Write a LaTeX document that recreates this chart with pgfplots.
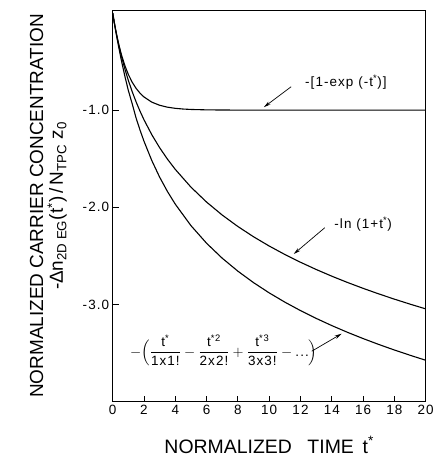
\documentclass[border=0pt]{standalone}
\usepackage{fontspec}
\setmainfont{Liberation Sans}
\newfontfamily\lsfont{Liberation Sans}[LetterSpace=8]
\usepackage{amsmath}
\usepackage{pgfplots}
\pgfplotsset{compat=1.18}
\usetikzlibrary{arrows.meta}
\begin{document}
\begin{tikzpicture}
\begin{axis}[
  width=314pt, height=393pt, scale only axis,
  xmin=0, xmax=20, ymin=-4, ymax=0.03,
  xtick={0,2,...,20},
  ytick={-1,-2,-3}, yticklabels={-1.0,-2.0,-3.0},
  xtick pos=bottom, ytick pos=left, tick align=inside,
  major tick length=6pt,
  axis line style={line width=0.9pt},
  tick style={line width=0.8pt, black},
  ticklabel style={font=\lsfont\fontsize{13.5}{16}\selectfont},
  /pgf/number format/assume math mode=true,
  xlabel={NORMALIZED\hspace{0.8em}TIME\hspace{0.45em}t\textsuperscript{*}},
  xlabel style={font=\fontsize{19.5}{20}\selectfont, yshift=-15pt},
  ylabel={NORMALIZED CARRIER CONCENTRATION\\-Δn\textsubscript{2D EG}(t\textsuperscript{*})\,/\,N\textsubscript{TPC} z\textsubscript{0}},
  ylabel style={align=center, font=\fontsize{19}{20}\selectfont, yshift=9pt},
]
\addplot[black, line width=1.1pt] coordinates {(0,0) (0.1,-0.0952) (0.2,-0.1813) (0.3,-0.2592) (0.4,-0.3297) (0.5,-0.3935) (0.6,-0.4512) (0.8,-0.5507) (1.0,-0.6321) (1.25,-0.7135) (1.5,-0.7769) (1.75,-0.8262) (2,-0.8647) (2.5,-0.9179) (3,-0.9502) (3.5,-0.9698) (4,-0.9817) (4.5,-0.9889) (5,-0.9933) (6,-0.9975) (7,-0.9991) (8,-0.9997) (10,-1.0) (14,-1.0) (20,-1.0)};
\addplot[black, line width=1.1pt] coordinates {(0,0) (0.1,-0.0953) (0.2,-0.1823) (0.3,-0.2624) (0.4,-0.3365) (0.5,-0.4055) (0.6,-0.4700) (0.8,-0.5878) (1,-0.6931) (1.25,-0.8109) (1.5,-0.9163) (1.75,-1.0116) (2,-1.0986) (2.5,-1.2528) (3,-1.3863) (3.5,-1.5041) (4,-1.6094) (5,-1.7918) (6,-1.9459) (7,-2.0794) (8,-2.1972) (9,-2.3026) (10,-2.3979) (11,-2.4849) (12,-2.5649) (13,-2.6391) (14,-2.7081) (15,-2.7726) (16,-2.8332) (17,-2.8904) (18,-2.9444) (19,-2.9957) (20,-3.0445)};
\addplot[black, line width=1.1pt] coordinates {(0,0) (0.1,-0.0976) (0.2,-0.1904) (0.3,-0.2789) (0.4,-0.3633) (0.5,-0.4438) (0.6,-0.5208) (0.8,-0.6647) (1,-0.7966) (1.25,-0.9358) (1.5,-1.0827) (1.75,-1.2063) (2,-1.3192) (2.5,-1.5184) (3,-1.6889) (3.5,-1.8370) (4,-1.9673) (5,-2.1877) (6,-2.3694) (7,-2.5232) (8,-2.6566) (9,-2.7744) (10,-2.8798) (11,-2.9751) (12,-3.0621) (13,-3.1421) (14,-3.2163) (15,-3.2853) (16,-3.3498) (17,-3.4104) (18,-3.4676) (19,-3.5216) (20,-3.5729)};
\draw[line width=0.7pt, -{Stealth[length=7pt,width=3.5pt]}] (axis cs:11.4,-0.76) -- (axis cs:9.66,-0.97);
\draw[line width=0.7pt, -{Stealth[length=7pt,width=3.5pt]}] (axis cs:13.55,-2.21) -- (axis cs:11.57,-2.48);
\draw[line width=0.7pt, -{Stealth[length=7pt,width=3.5pt]}] (axis cs:12.72,-3.48) -- (axis cs:14.63,-3.30);
\node[font=\lsfont\fontsize{13.5}{16}\selectfont] at (axis cs:14.9,-0.71) {-[1-exp (-t\textsuperscript{*})]};
\node[font=\lsfont\fontsize{13.5}{16}\selectfont] at (axis cs:16.0,-2.17) {-ln (1+t\textsuperscript{*})};
\node[font=\lsfont\fontsize{13.5}{16}\selectfont] at (axis cs:7.1,-3.47) {$\displaystyle -\Bigl(\frac{\text{t\textsuperscript{*}}}{\text{1x1!}}-\frac{\text{t\textsuperscript{*2}}}{\text{2x2!}}+\frac{\text{t\textsuperscript{*3}}}{\text{3x3!}}-\text{...}\Bigr)$};
\end{axis}
\path ([yshift=10pt]current axis.north) ([xshift=-113pt]current axis.south west);
\end{tikzpicture}
\end{document}
